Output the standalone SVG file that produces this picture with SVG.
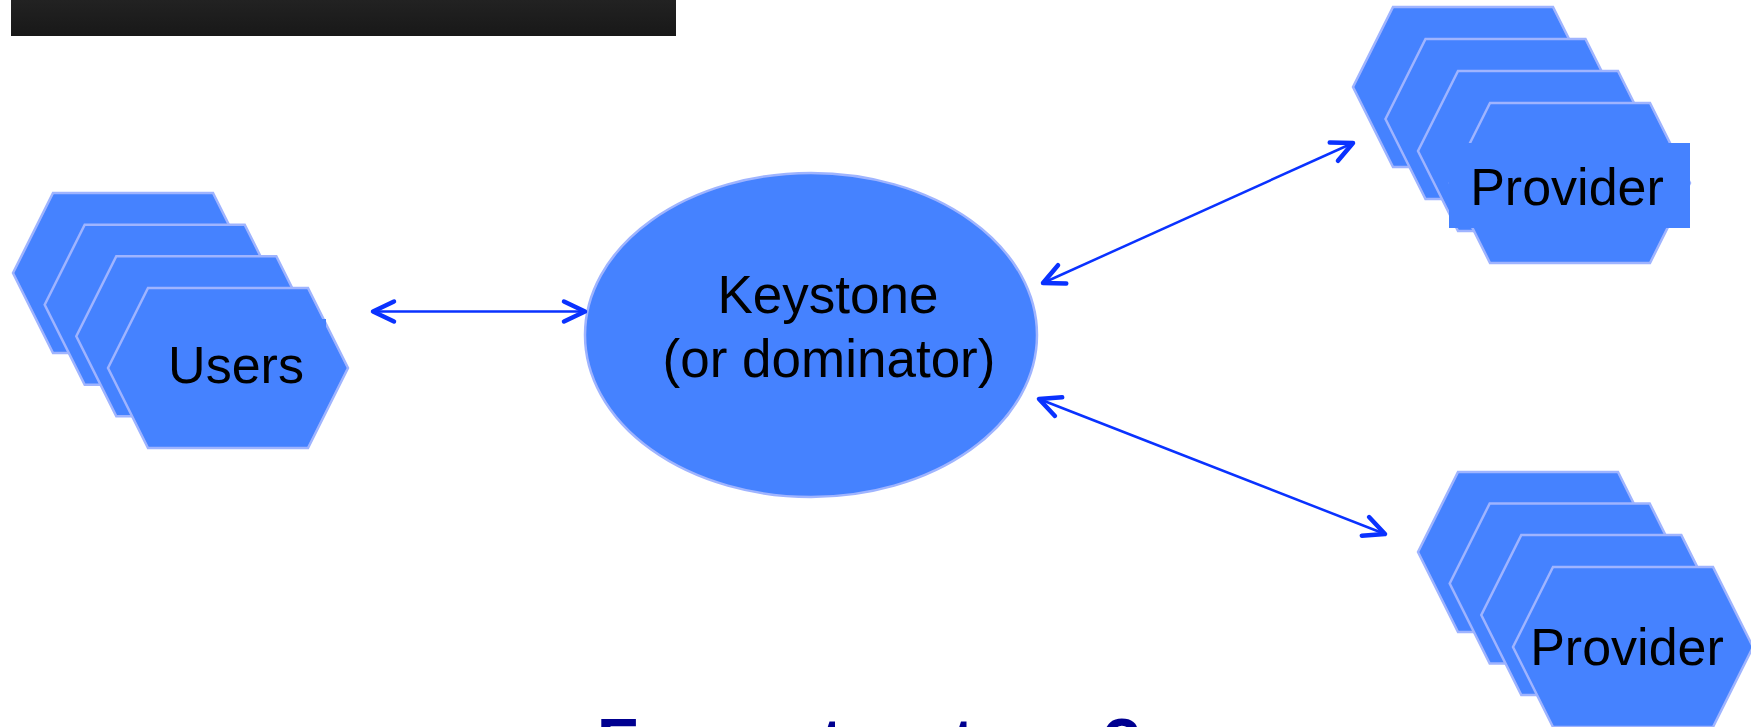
<svg xmlns="http://www.w3.org/2000/svg" width="1751" height="727" viewBox="0 0 1751 727">
<defs>
<linearGradient id="bar" x1="0" y1="0" x2="0" y2="1">
<stop offset="0" stop-color="#222222"/>
<stop offset="1" stop-color="#181818"/>
</linearGradient>
<marker id="ah" viewBox="-28 -15 32 30" refX="0" refY="0" markerWidth="32" markerHeight="30" markerUnits="userSpaceOnUse" orient="auto-start-reverse">
<path d="M-21,-10 L0,0 L-21,10" fill="none" stroke="#0a32ff" stroke-width="4.5" stroke-linecap="round" stroke-linejoin="round"/>
</marker>
<path id="hex" d="M0,0 h160 l40,80 l-40,80 h-160 l-40,-80 Z"/>
</defs>
<style>
.hx{fill:#4582ff;stroke:#9fb4ff;stroke-width:2.5}
.lbl{font-family:"Liberation Sans",Arial,sans-serif;font-size:52px;fill:#000;text-anchor:middle}
.tb{fill:#4582ff}
.conn{stroke:#0a32ff;stroke-width:2.5;fill:none;marker-start:url(#ah);marker-end:url(#ah)}
</style>
<rect width="1751" height="727" fill="#ffffff"/>
<rect x="11" y="0" width="665" height="36" fill="url(#bar)"/>

<g id="users">
<use href="#hex" class="hx" x="53" y="193"/>
<use href="#hex" class="hx" x="84.7" y="224.7"/>
<use href="#hex" class="hx" x="116.3" y="256.3"/>
<use href="#hex" class="hx" x="148" y="288"/>
<rect class="tb" x="150" y="319" width="176" height="80"/>
<text class="lbl" x="236" y="383">Users</text>
</g>

<g id="keystone">
<ellipse cx="811" cy="335" rx="226" ry="162" fill="#4582ff" stroke="#9fb4ff" stroke-width="2.5"/>
<text class="lbl" style="font-size:53px" x="828" y="313">Keystone</text>
<text class="lbl" style="font-size:53px" x="829" y="377">(or dominator)</text>
</g>

<g id="provider-top">
<use href="#hex" class="hx" x="1393" y="7"/>
<use href="#hex" class="hx" x="1425.5" y="39"/>
<use href="#hex" class="hx" x="1458" y="71"/>
<use href="#hex" class="hx" x="1490" y="103"/>
<rect class="tb" x="1449" y="143" width="241" height="85"/>
<text class="lbl" x="1567" y="205">Provider</text>
</g>

<g id="provider-bottom">
<use href="#hex" class="hx" x="1458" y="472"/>
<use href="#hex" class="hx" x="1489.7" y="503.5"/>
<use href="#hex" class="hx" x="1521.3" y="535"/>
<use href="#hex" class="hx" x="1553" y="567"/>
<text class="lbl" x="1627" y="665">Provider</text>
</g>

<g id="connectors">
<line class="conn" x1="373" y1="311.5" x2="585" y2="311.5"/>
<line class="conn" x1="1043" y1="283" x2="1353" y2="143"/>
<line class="conn" x1="1039" y1="399" x2="1385" y2="534"/>
</g>

<text x="597" y="764" font-family="'Liberation Sans',Arial,sans-serif" font-size="64" font-weight="bold" fill="#000090">Ecosystem team?</text>
</svg>
